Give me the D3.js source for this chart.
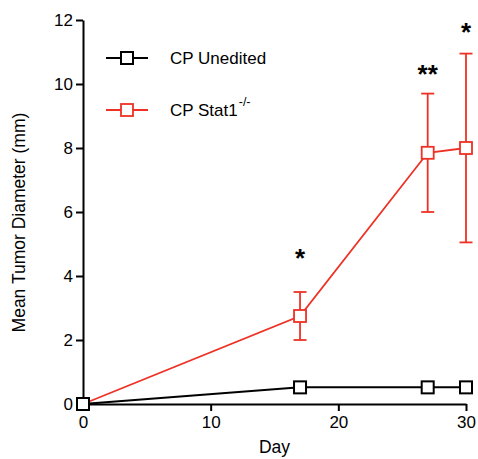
<!DOCTYPE html>
<html>
<head>
<meta charset="utf-8">
<script src="https://cdn.jsdelivr.net/npm/d3@7"></script>
<style>
  body { margin: 0; background: #fff; }
</style>
</head>
<body>
<svg width="478" height="459"></svg>
<script>
const days = [0, 17, 27, 30];
const unedited = [0, 0.52, 0.52, 0.52];
const stat1 = [0, 2.75, 7.85, 8.0];
const stat1Low = [0, 2.0, 6.0, 5.05];
const stat1High = [0, 3.5, 9.7, 10.95];
const stars = ["", "*", "**", "*"];
const starLevel = [0, 4.72, 10.47, 11.78];
const xTicks = [0, 10, 20, 30];
const yTicks = [0, 2, 4, 6, 8, 10, 12];

const margin = { top: 20, right: 12, bottom: 55, left: 83 };
const width = 478, height = 459;
const font = "'Liberation Sans', Arial, sans-serif";

const svg = d3.select("svg").attr("font-family", font);

const x = d3.scaleLinear().domain([0, 30]).range([margin.left, 466]);
const y = d3.scaleLinear().domain([0, 12]).range([404, margin.top]);

// axes
const xAxis = svg.append("g")
  .attr("transform", `translate(0, ${y(0)})`)
  .call(d3.axisBottom(x).tickValues(xTicks).tickSize(7).tickPadding(5).tickSizeOuter(0));
const yAxis = svg.append("g")
  .attr("transform", `translate(${x(0)}, 0)`)
  .call(d3.axisLeft(y).tickValues(yTicks).tickSize(7).tickPadding(3).tickSizeOuter(0));

[xAxis, yAxis].forEach((g) => {
  g.select(".domain").attr("stroke", "#000").attr("stroke-width", 2);
  g.selectAll(".tick line").attr("stroke", "#000").attr("stroke-width", 2);
  g.selectAll(".tick text").attr("font-size", 17).attr("fill", "#000").attr("font-family", font);
});

svg.append("text")
  .attr("x", x(15))
  .attr("y", 453)
  .attr("text-anchor", "middle")
  .attr("font-size", 17.5)
  .text("Day");

svg.append("text")
  .attr("transform", `translate(25, ${y(5.67)}) rotate(-90)`)
  .attr("text-anchor", "middle")
  .attr("font-size", 17.5)
  .text("Mean Tumor Diameter (mm)");

const red = "#ee3124";
const line = d3.line().x((d, i) => x(days[i])).y((d) => y(d));

// red series with error bars
const errG = svg.append("g").attr("stroke", red).attr("stroke-width", 1.8);
days.forEach((d, i) => {
  if (stat1High[i] === stat1Low[i]) return;
  errG.append("line").attr("x1", x(d)).attr("x2", x(d)).attr("y1", y(stat1Low[i])).attr("y2", y(stat1High[i]));
  [stat1Low[i], stat1High[i]].forEach((v) => {
    errG.append("line").attr("x1", x(d) - 6.5).attr("x2", x(d) + 6.5).attr("y1", y(v)).attr("y2", y(v));
  });
});

svg.append("path").datum(stat1).attr("d", line)
  .attr("fill", "none").attr("stroke", red).attr("stroke-width", 1.8);
svg.append("g").selectAll("rect").data(stat1).join("rect")
  .attr("x", (d, i) => x(days[i]) - 6).attr("y", (d) => y(d) - 6)
  .attr("width", 12).attr("height", 12)
  .attr("fill", "#fff").attr("stroke", red).attr("stroke-width", 1.8);

// black series
svg.append("path").datum(unedited).attr("d", line)
  .attr("fill", "none").attr("stroke", "#000").attr("stroke-width", 2);
svg.append("g").selectAll("rect").data(unedited).join("rect")
  .attr("x", (d, i) => x(days[i]) - 6).attr("y", (d) => y(d) - 6)
  .attr("width", 12).attr("height", 12)
  .attr("fill", "#fff").attr("stroke", "#000").attr("stroke-width", 2);

// significance stars
svg.append("g").selectAll("text").data(stars).join("text")
  .attr("x", (d, i) => x(days[i]))
  .attr("y", (d, i) => y(starLevel[i]) + 14)
  .attr("text-anchor", "middle")
  .attr("font-size", 26)
  .attr("font-weight", "bold")
  .text((d) => d);

// legend
const legend = [
  { label: "CP Unedited", color: "#000", sw: 2, y: 58 },
  { label: "CP Stat1", sup: "-/-", color: red, sw: 1.8, y: 110 },
];
const lg = svg.append("g").selectAll("g").data(legend).join("g")
  .attr("transform", (d) => `translate(0, ${d.y})`);
lg.append("line").attr("x1", 106).attr("x2", 148).attr("y1", 0).attr("y2", 0)
  .attr("stroke", (d) => d.color).attr("stroke-width", (d) => d.sw);
lg.append("rect").attr("x", 121).attr("y", -6).attr("width", 12).attr("height", 12)
  .attr("fill", "#fff").attr("stroke", (d) => d.color).attr("stroke-width", (d) => d.sw);
const lt = lg.append("text").attr("x", 170).attr("y", 6).attr("font-size", 17).text((d) => d.label);
lt.filter((d) => d.sup).append("tspan").attr("dx", 1).attr("dy", -10).attr("font-size", 12.5).text((d) => d.sup);
</script>
</body>
</html>
